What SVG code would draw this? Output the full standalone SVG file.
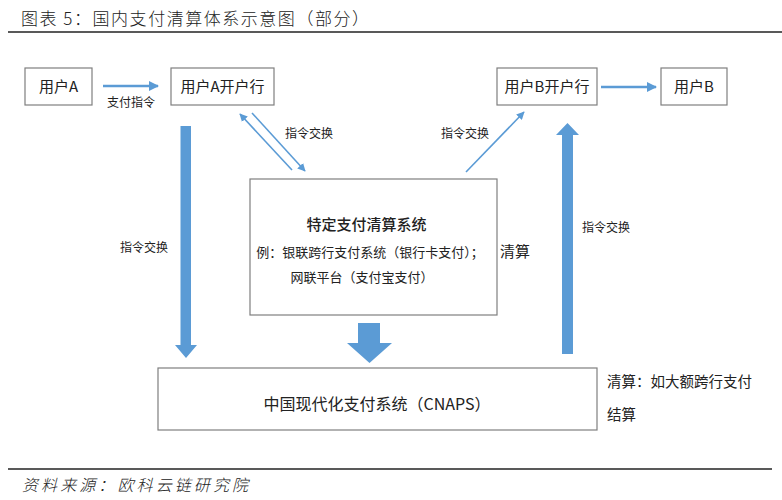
<svg xmlns="http://www.w3.org/2000/svg" width="782" height="500" viewBox="0 0 782 500">
<style>
.box{fill:#fff;stroke:#7f7f7f;stroke-width:1.2}
.t{font-family:"Microsoft YaHei","Noto Sans CJK SC","Noto Sans",sans-serif;fill:#222}
.lbl{font-size:15px;text-anchor:middle}
.sm{font-size:12px}
.thin{stroke:#5b9bd5;fill:none}
.fat{fill:#5b9bd5}
.hd{font-family:"Noto Sans CJK SC",serif;fill:#222;font-weight:300}
</style>
<defs>
<marker id="ah" viewBox="0 0 10 10" refX="9" refY="5" markerWidth="4" markerHeight="4" orient="auto" markerUnits="strokeWidth">
<path d="M0,0 L10,5 L0,10 z" fill="#5b9bd5"/>
</marker>
<marker id="ah2" viewBox="0 0 10 10" refX="9" refY="5" markerWidth="5" markerHeight="5" orient="auto" markerUnits="strokeWidth">
<path d="M0,0 L10,5 L0,10 z" fill="#5b9bd5"/>
</marker>
</defs>
<rect width="782" height="500" fill="#fff"/>
<text class="hd" x="21" y="25" font-size="17" textLength="348" lengthAdjust="spacing">图表 5：国内支付清算体系示意图（部分）</text>
<line x1="8" y1="32" x2="782" y2="32" stroke="#222" stroke-width="1.3"/>

<g id="userA"><rect class="box" x="25" y="68" width="67" height="37"/><text class="t lbl" x="58.5" y="92">用户A</text></g>
<g id="bankA"><rect class="box" x="171" y="68" width="103" height="37"/><text class="t lbl" x="222.5" y="92">用户A开户行</text></g>
<g id="bankB"><rect class="box" x="497" y="68" width="100" height="37"/><text class="t lbl" x="547" y="92">用户B开户行</text></g>
<g id="userB"><rect class="box" x="661" y="68" width="66" height="37"/><text class="t lbl" x="694" y="92">用户B</text></g>
<g id="special"><rect class="box" x="250" y="179" width="247" height="136"/>
<text class="t" x="366.5" y="230" font-size="15" font-weight="500" text-anchor="middle">特定支付清算系统</text>
<text class="t" x="370" y="257" font-size="13" text-anchor="middle">例：银联跨行支付系统（银行卡支付）；</text>
<text class="t" x="362" y="282" font-size="13" text-anchor="middle">网联平台（支付宝支付）</text>
</g>
<g id="cnaps"><rect class="box" x="158" y="368" width="439" height="62"/><text class="t" x="377" y="410" font-size="16" text-anchor="middle">中国现代化支付系统（CNAPS）</text></g>

<g id="connectors">
<line class="thin" x1="103" y1="86" x2="158" y2="86" stroke-width="2.5" marker-end="url(#ah)"/>
<line class="thin" x1="601" y1="87" x2="656" y2="87" stroke-width="2.5" marker-end="url(#ah)"/>
<line class="thin" x1="292" y1="170" x2="240" y2="114" stroke-width="1.6" marker-end="url(#ah2)"/>
<line class="thin" x1="252" y1="113" x2="305" y2="171" stroke-width="1.6" marker-end="url(#ah2)"/>
<line class="thin" x1="466" y1="172" x2="524" y2="112" stroke-width="1.6" marker-end="url(#ah2)"/>
<path class="fat" d="M180.5,126 H191 V345 H197 L186,358 L175,345 H180.5 Z"/>
<path class="fat" d="M358,323 H380 V343 H392 L369.5,363 L347,343 H358 Z"/>
<path class="fat" d="M562,354 V135 H556 L567.5,123 L579,135 H573 V354 Z"/>
</g>

<g id="labels">
<text class="t sm" x="107" y="107">支付指令</text>
<text class="t sm" x="285" y="138">指令交换</text>
<text class="t sm" x="441" y="138">指令交换</text>
<text class="t sm" x="120" y="252">指令交换</text>
<text class="t sm" x="582" y="232">指令交换</text>
<text class="t" x="500" y="257" font-size="15">清算</text>
<text class="t" x="607" y="387" font-size="14.5">清算：如大额跨行支付</text>
<text class="t" x="607" y="420" font-size="14.5">结算</text>
</g>

<line x1="8" y1="469" x2="772" y2="469" stroke="#222" stroke-width="1.3"/>
<text class="hd" x="22" y="491" font-size="16" font-style="italic" textLength="226" lengthAdjust="spacing">资料来源：欧科云链研究院</text>
</svg>
